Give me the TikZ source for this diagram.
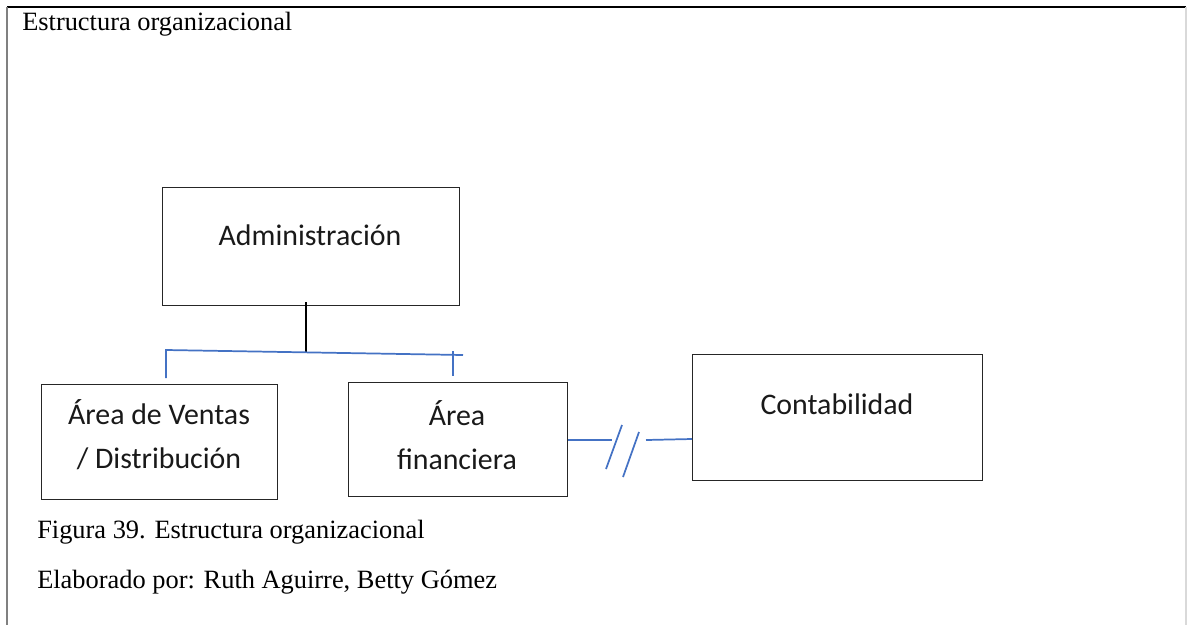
\documentclass[tikz,border=0pt]{standalone}
\usepackage{fontspec}
\setmainfont{Liberation Serif}
\newfontfamily\calfont{Carlito}
\definecolor{lineblue}{HTML}{4472C4}
\definecolor{framegray}{HTML}{808080}
\begin{document}
\begin{tikzpicture}[x=0.75pt,y=-0.75pt,
  box/.style={draw=black!85,line width=1.1pt,inner sep=0pt,anchor=north west},
  boxtext/.style={font=\calfont\fontsize{22.4}{33}\selectfont,align=center,text=black!90},
  caption/.style={font=\fontsize{19.8}{22}\selectfont,anchor=base west,inner sep=0pt},
  conn/.style={lineblue,line width=1.3pt},
  stem/.style={black,line width=1.5pt}]
\useasboundingbox (0,0) rectangle (1187,625);
% outer frame
\draw[black,line width=1.5pt] (7,7) -- (1186,7);
\draw[framegray,line width=1.5pt] (7,7) -- (7,625);
\draw[black!15,line width=1pt] (1186,7) -- (1186,625);
\node[caption] (title) at (22,30) {Estructura organizacional};
% boxes
\node[box,minimum width=297*0.75pt,minimum height=118*0.75pt] (adm) at (162,187) {};
\node[boxtext] (admt) at (310,235) {Administración};
\node[box,minimum width=236*0.75pt,minimum height=115*0.75pt] (ven) at (41,384) {};
\node[boxtext] (vent) at (159,435) {Área de Ventas\\/ Distribución};
\node[box,minimum width=219*0.75pt,minimum height=114*0.75pt] (fin) at (348,382) {};
\node[boxtext] (fint) at (457,435) {Área\\financiera};
\node[box,minimum width=290*0.75pt,minimum height=126*0.75pt] (con) at (692,354) {};
\node[boxtext] (cont) at (837,404) {Contabilidad};
% connectors
\coordinate (j) at (306,352);
\coordinate (bl) at (166,350);
\coordinate (br) at (463,355);
\coordinate (vl) at (166,378);
\coordinate (vrt) at (453,351);
\coordinate (vrb) at (453,376);
\draw[stem] (adm.south -| j) ++(0,-4) -- (j);
\draw[conn] (vl) -- (bl) -- (br);
\draw[conn] (vrt) -- (vrb);
% broken link
\coordinate (b1) at (612,440);
\coordinate (b2) at (646,440);
\draw[conn] (fin.east |- b1) -- (b1);
\draw[conn] (606,469) -- (622,425);
\draw[conn] (623,477) -- (639,432);
\draw[conn] (b2) -- (con.west |- 0,439);
% captions
\node[caption] (fig) at (37,538) {Figura 39. Estructura organizacional};
\node[caption] (elab) at (37,588) {Elaborado por: Ruth Aguirre, Betty Gómez};
\end{tikzpicture}
\end{document}
